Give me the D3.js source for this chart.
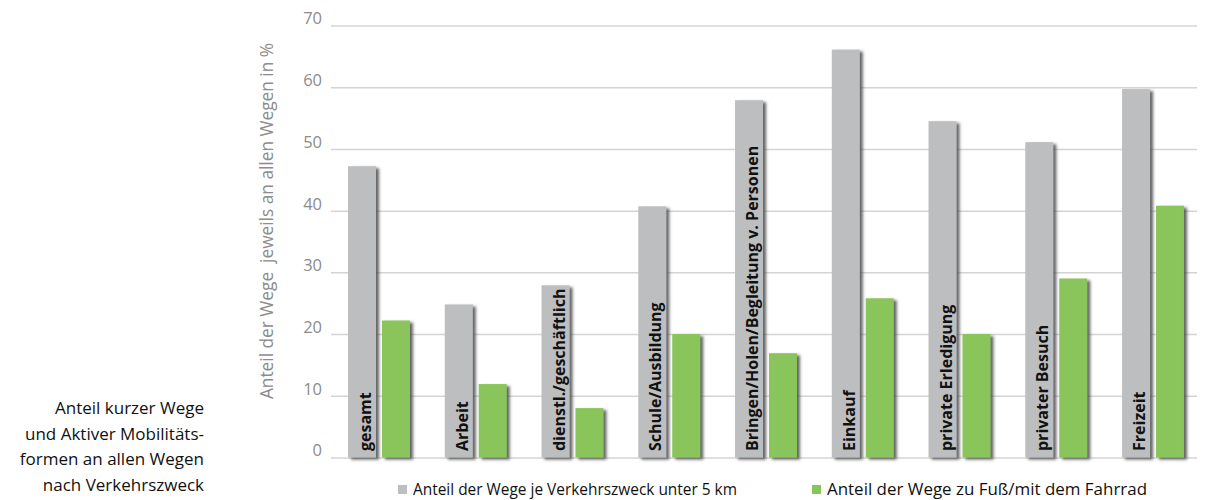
<!DOCTYPE html>
<html lang="de">
<head>
<meta charset="utf-8">
<script src="https://cdn.jsdelivr.net/npm/d3@7/dist/d3.min.js"></script>
<style>
  html, body { margin: 0; padding: 0; background: #fff; }
  svg { display: block; }
</style>
</head>
<body>
<svg id="chart" width="1208" height="500"></svg>
<script>
// Verkehrszwecke (x-Achse)
const categories = [
  "gesamt", "Arbeit", "dienstl./geschäftlich", "Schule/Ausbildung",
  "Bringen/Holen/Begleitung v. Personen", "Einkauf", "private Erledigung",
  "privater Besuch", "Freizeit"
];
// Anteil der Wege je Verkehrszweck unter 5 km (%)
const shortTrips = [47.2, 24.8, 27.9, 40.7, 57.9, 66.1, 54.5, 51.1, 59.7];
// Anteil der Wege zu Fuß/mit dem Fahrrad (%)
const activeTrips = [22.2, 11.9, 8.0, 20.0, 16.9, 25.8, 20.0, 29.0, 40.8];
const seriesNames = [
  "Anteil der Wege je Verkehrszweck unter 5 km",
  "Anteil der Wege zu Fuß/mit dem Fahrrad"
];
const yTicks = [0, 10, 20, 30, 40, 50, 60, 70];
const yTitle = "Anteil der Wege  jeweils an allen Wegen in %";
const sideTitle = [
  "Anteil kurzer Wege",
  "und Aktiver Mobilitäts-",
  "formen an allen Wegen",
  "nach Verkehrszweck"
];

const colors = ["#bdbec0", "#89c55a"];
const svg = d3.select("#chart");

// Schlagschatten für die Balken
const defs = svg.append("defs");
const f = defs.append("filter").attr("id", "shadow")
  .attr("x", "-20%").attr("y", "-5%").attr("width", "160%").attr("height", "115%");
f.append("feDropShadow").attr("dx", 3).attr("dy", 2)
  .attr("stdDeviation", 1.4).attr("flood-color", "#4a4a4a").attr("flood-opacity", 0.85);

const y = d3.scaleLinear().domain([0, 70]).range([457.5, 25.5]);
const x0 = d3.scaleBand().domain(categories).range([331, 1201])
  .paddingInner(0.36).paddingOuter(0.176);
const x1 = d3.scaleBand().domain([0, 1]).range([0, x0.bandwidth()]).paddingInner(0.176);

// Gitterlinien + Beschriftung der y-Achse
const yAxis = d3.axisLeft(y).tickValues(yTicks).tickSize(-866).tickPadding(9);
const gy = svg.append("g").attr("transform", "translate(331,0)").call(yAxis);
gy.select(".domain").remove();
gy.selectAll(".tick line").attr("stroke", "#d4d4d4").attr("stroke-width", 1.5);
gy.selectAll(".tick text")
  .attr("fill", "#8c8c8c")
  .attr("font-family", "'Open Sans', sans-serif")
  .attr("font-size", 16.5)
  .attr("dy", "-0.1em");

// Achsentitel
svg.append("text")
  .attr("transform", "translate(273,221) rotate(-90)")
  .attr("text-anchor", "middle")
  .attr("fill", "#8c8c8c")
  .attr("font-family", "'Open Sans', sans-serif")
  .attr("font-size", 17.3)
  .style("white-space", "pre")
  .text(yTitle);

// Balken
const data = categories.map((c, i) => ({ c, v: [shortTrips[i], activeTrips[i]] }));
const groups = svg.append("g").selectAll("g").data(data).join("g")
  .attr("transform", d => `translate(${x0(d.c)},0)`);

groups.selectAll("rect").data(d => d.v).join("rect")
  .attr("x", (d, i) => x1(i))
  .attr("y", d => y(d))
  .attr("width", x1.bandwidth())
  .attr("height", d => y(0) - y(d))
  .attr("fill", (d, i) => colors[i])
  .attr("filter", "url(#shadow)");

// Kategorienamen senkrecht im grauen Balken
groups.append("text")
  .attr("transform", `translate(${x1(0) + 23},451) rotate(-90)`)
  .attr("font-family", "'Open Sans', sans-serif")
  .attr("font-weight", "bold")
  .attr("font-size", 16)
  .attr("fill", "#111")
  .text(d => d.c);

// Legende
const legend = svg.append("g");
const legX = [398, 812];
const legW = [324, 320];
seriesNames.forEach((name, i) => {
  legend.append("rect").attr("x", legX[i]).attr("y", 485)
    .attr("width", 9).attr("height", 9).attr("fill", colors[i]);
  legend.append("text").attr("x", legX[i] + 15).attr("y", 495)
    .attr("font-family", "'Liberation Sans Narrow', 'Open Sans', sans-serif")
    .attr("font-size", 16).attr("fill", "#111")
    .attr("textLength", legW[i]).attr("lengthAdjust", "spacingAndGlyphs")
    .text(name);
});

// Beschreibung links
const side = svg.append("text")
  .attr("text-anchor", "end")
  .attr("font-family", "'Open Sans', sans-serif")
  .attr("font-size", 17)
  .attr("fill", "#111");
sideTitle.forEach((line, i) => {
  side.append("tspan").attr("x", 204).attr("y", 414 + i * 25.5).text(line);
});
</script>
</body>
</html>
